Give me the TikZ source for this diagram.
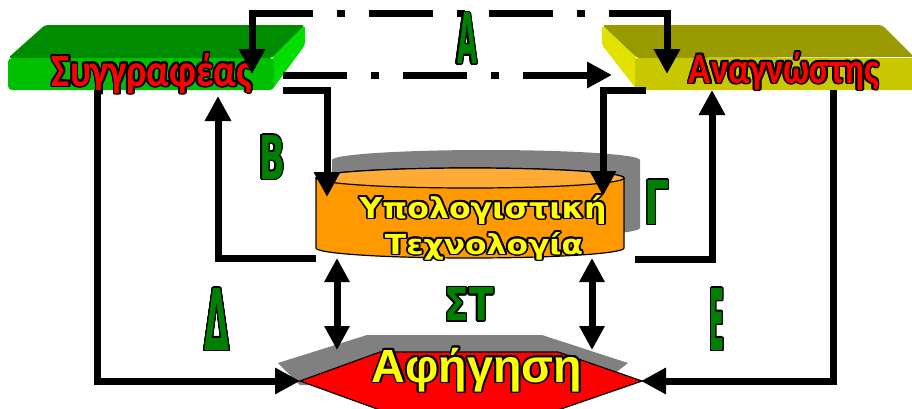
\documentclass[tikz,border=0pt]{standalone}
\usepackage{fontspec}
\usepackage{graphicx}
\usepackage{contour}
\usetikzlibrary{arrows.meta}
\newfontfamily\fcar{Carlito}
\newfontfamily\fdv{DejaVu Sans}
\newfontfamily\flib{Liberation Sans}
\definecolor{lblgreen}{RGB}{0,128,0}
\definecolor{gtop}{RGB}{0,140,0}
\definecolor{gfront}{RGB}{0,190,0}
\definecolor{gside}{RGB}{0,222,0}
\definecolor{ytop}{RGB}{153,153,0}
\definecolor{yfront}{RGB}{200,200,0}
\definecolor{yside}{RGB}{226,226,0}
\definecolor{cylbody}{RGB}{255,153,0}
\definecolor{cyltop}{RGB}{255,172,55}
\definecolor{shadowgray}{RGB}{128,128,128}
\definecolor{txtyellow}{RGB}{255,255,0}
\definecolor{txtred}{RGB}{255,0,0}
\newcommand{\glbl}[3]{{\contourlength{1.4pt}\color{lblgreen}\contour{black}{\resizebox{#1}{#2}{\fdv\bfseries #3}}}}
\newcommand{\otext}[5]{{\contourlength{1.8pt}\color{#1}\contour{black}{\resizebox{#2}{#3}{#4\bfseries #5}}}}
\begin{document}
\begin{tikzpicture}[x=1pt,y=-1pt,
  arr/.style={line width=7pt,-{Triangle[width=25pt,length=25pt]}},
  dbl/.style={line width=7pt,{Triangle[width=24pt,length=24pt]}-{Triangle[width=24pt,length=24pt]}},
  dd/.style={line width=7pt,dash pattern=on 64pt off 24pt on 8pt off 24pt},
  rim/.style={draw=black,line width=1.2pt},
  txt/.style={inner sep=0pt,anchor=base},
  lbl/.style={inner sep=0pt,anchor=center}]
\useasboundingbox (0,0) rectangle (912,408);
% ---- author slab (green)
\fill[gtop,rounded corners=3pt] (8,58) -- (45,25) -- (305,25) -- (272,58) -- cycle;
\fill[gside,rounded corners=3pt] (272,58) -- (305,25) -- (305,45) -- (272,90) -- cycle;
\fill[gfront,rounded corners=4pt] (8,58) rectangle (274,90);
% ---- reader slab (yellow)
\fill[ytop,rounded corners=3pt] (602,25) -- (882,25) -- (914,57) -- (637,58) -- cycle;
\fill[yside,rounded corners=3pt] (602,25) -- (637,58) -- (637,90) -- (602,45) -- cycle;
\fill[yfront,rounded corners=3pt] (635,58) rectangle (916,90);
% ---- cylinder shadow and cylinder
\fill[shadowgray] (332,160) arc[start angle=180,end angle=360,x radius=154,y radius=10]
  -- (640,228) arc[start angle=0,end angle=180,x radius=154,y radius=10] -- cycle;
\filldraw[fill=cylbody,rim] (316,178) arc[start angle=180,end angle=360,x radius=154,y radius=10]
  -- (624,248) arc[start angle=0,end angle=180,x radius=154,y radius=10] -- cycle;
\filldraw[fill=cyltop,rim] (470,178) ellipse[x radius=154,y radius=10];
% ---- hexagon shadow and hexagon
\fill[shadowgray] (278,363) -- (367,335) -- (542,335) -- (628,363) -- (600,385) -- (300,385) -- cycle;
\filldraw[fill=red,rim] (300,381) -- (380,352) -- (558,352) -- (642,381) -- (558,410) -- (380,410) -- cycle;
% ---- texts
\node[txt] (author) at (152,86) {\otext{txtred}{200pt}{33pt}{\fcar}{Συγγραφέας}};
\node[txt] (reader) at (784,83) {\otext{txtred}{190pt}{31pt}{\fcar}{Αναγνώστης}};
\node[txt] (tech1) at (483,218) {\otext{txtyellow}{247pt}{23pt}{\fdv}{Υπολογιστική}};
\node[txt] (tech2) at (484,254) {\otext{txtyellow}{198pt}{22pt}{\fdv}{Τεχνολογία}};
\node[txt] (story) at (477,382) {\otext{txtyellow}{210pt}{!}{\flib}{Αφήγηση}};
% ---- connection points
\coordinate (aTopL) at (252,9.5);   \coordinate (aTipL) at (252,74);
\coordinate (aTopR) at (667,9.5);   \coordinate (aTipR) at (667,74);
\coordinate (aH1) at (252,13);      \coordinate (aH2) at (667,13);
\coordinate (bS) at (283,75);       \coordinate (bT) at (612,75);
\coordinate (c1) at (283,90);  \coordinate (c2) at (327,90);  \coordinate (c3) at (327,197);
\coordinate (d1) at (316,258); \coordinate (d2) at (218,258); \coordinate (d3) at (218,96);
\coordinate (e1) at (646,90);  \coordinate (e2) at (603,90);  \coordinate (e3) at (603,196);
\coordinate (f1) at (635,259); \coordinate (f2) at (712,259); \coordinate (f3) at (712,90);
\coordinate (g1) at (97,90);   \coordinate (g2) at (97,381);  \coordinate (g3) at (300,381);
\coordinate (h1) at (833,90);  \coordinate (h2) at (833,381); \coordinate (h3) at (641,381);
\coordinate (i1) at (337,258); \coordinate (i2) at (337,350);
\coordinate (j1) at (592,258); \coordinate (j2) at (592,350);
% ---- connectors
\draw[arr] (aTopL) -- (aTipL);
\draw[arr] (aTopR) -- (aTipR);
\draw[dd,dash phase=3pt] (aH1) -- (aH2);
\draw[dd,arr] (bS) -- (bT);
\draw[arr] (c1) -- (c2) -- (c3);
\draw[arr] (d1) -- (d2) -- (d3);
\draw[arr] (e1) -- (e2) -- (e3);
\draw[arr] (f1) -- (f2) -- (f3);
\draw[arr] (g1) -- (g2) -- (g3);
\draw[arr] (h1) -- (h2) -- (h3);
\draw[dbl] (i1) -- (i2);
\draw[dbl] (j1) -- (j2);
% ---- labels
\node[lbl] (lA) at (467,39) {\glbl{20pt}{51pt}{Α}};
\node[lbl] (lB) at (272,158) {\glbl{26pt}{44pt}{Β}};
\node[lbl] (lG) at (657,203) {\glbl{25pt}{44pt}{Γ}};
\node[lbl] (lD) at (217,320) {\glbl{25pt}{62pt}{Δ}};
\node[lbl] (lST) at (469,305) {\glbl{49pt}{33pt}{ΣΤ}};
\node[lbl] (lE) at (717,320) {\glbl{15pt}{62pt}{Ε}};
\end{tikzpicture}
\end{document}
